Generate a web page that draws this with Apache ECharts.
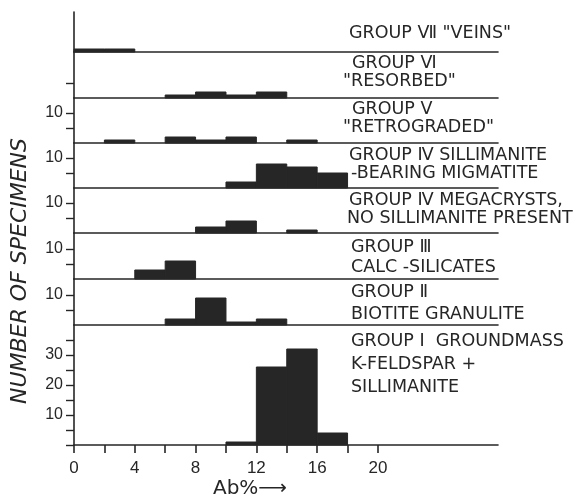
<!DOCTYPE html>
<html>
<head>
<meta charset="utf-8">
<script src="https://cdn.jsdelivr.net/npm/echarts@6/dist/echarts.min.js"></script>
<style>
html,body{margin:0;padding:0;background:#fff;}
#chart{width:587px;height:497px;}
</style>
</head>
<body>
<div id="chart"></div>
<script>
// Bin starts (Ab %), each bin is 2 % wide
const binStarts = [0, 2, 4, 6, 8, 10, 12, 14, 16];
const binWidth = 2;

// Number of specimens per bin, one array per group (top panel to bottom panel)
const groupVII_veins       = [1, 1, 0, 0, 0, 0, 0, 0, 0];
const groupVI_resorbed     = [0, 0, 0, 1, 2, 1, 2, 0, 0];
const groupV_retrograded   = [0, 1, 0, 2, 1, 2, 0, 1, 0];
const groupIV_sillimanite  = [0, 0, 0, 0, 0, 2, 8, 7, 5];
const groupIV_megacrysts   = [0, 0, 0, 0, 2, 4, 0, 1, 0];
const groupIII_calc        = [0, 0, 3, 6, 0, 0, 0, 0, 0];
const groupII_biotite      = [0, 0, 0, 2, 9, 1, 2, 0, 0];
const groupI_groundmass    = [0, 0, 0, 0, 0, 1, 26, 32, 4];

// Panel labels
const labelsVII = ['GROUP Ⅶ "VEINS"'];
const labelsVI  = ['GROUP Ⅵ', '"RESORBED"'];
const labelsV   = ['GROUP Ⅴ', '"RETROGRADED"'];
const labelsIVs = ['GROUP Ⅳ SILLIMANITE', '-BEARING MIGMATITE'];
const labelsIVm = ['GROUP Ⅳ MEGACRYSTS,', 'NO SILLIMANITE PRESENT'];
const labelsIII = ['GROUP Ⅲ', 'CALC -SILICATES'];
const labelsII  = ['GROUP Ⅱ', 'BIOTITE GRANULITE'];
const labelsI   = ['GROUP Ⅰ  GROUNDMASS', 'K-FELDSPAR +', 'SILLIMANITE'];

// Axis ticks
const xTickValues  = [0, 2, 4, 6, 8, 10, 12, 14, 16, 18, 20];
const xLabelValues = [0, 4, 8, 12, 16, 20];
const yTicksSmall  = [5, 10];
const yLabelsSmall = [10];
const yTicksVI     = [5];
const yTicksI      = [0, 5, 10, 15, 20, 25, 30, 35];
const yLabelsI     = [10, 20, 30];
const xAxisName = 'Ab%\u27F6';
const yAxisName = 'NUMBER OF SPECIMENS';

const ink = '#262626';
const textFont = '"DejaVu Sans", sans-serif';
const numFont = '"Liberation Sans", "DejaVu Sans", sans-serif';
const pxPerUnit = 3.0;
const xMax = 27.9;

const panels = [
  {data: groupVII_veins,      top: 12,  height: 40,  ticks: [],          labels: [],           text: labelsVII, textY: [33],           textX: [349]},
  {data: groupVI_resorbed,    top: 52,  height: 46,  ticks: yTicksVI,    labels: [],           text: labelsVI,  textY: [63, 81],       textX: [352, 343]},
  {data: groupV_retrograded,  top: 98,  height: 45,  ticks: yTicksSmall, labels: yLabelsSmall, text: labelsV,   textY: [109, 127],     textX: [352, 343]},
  {data: groupIV_sillimanite, top: 143, height: 45,  ticks: yTicksSmall, labels: yLabelsSmall, text: labelsIVs, textY: [155, 173],     textX: [349, 351]},
  {data: groupIV_megacrysts,  top: 188, height: 45,  ticks: yTicksSmall, labels: yLabelsSmall, text: labelsIVm, textY: [200, 218],     textX: [349, 347]},
  {data: groupIII_calc,       top: 233, height: 46,  ticks: yTicksSmall, labels: yLabelsSmall, text: labelsIII, textY: [247, 267],     textX: [351, 351]},
  {data: groupII_biotite,     top: 279, height: 46,  ticks: yTicksSmall, labels: yLabelsSmall, text: labelsII,  textY: [292, 314],     textX: [351, 351]},
  {data: groupI_groundmass,   top: 325, height: 120, ticks: yTicksI,     labels: yLabelsI,     text: labelsI,   textY: [341, 364, 387], textX: [351, 351, 351]}
];

const grid = [], xAxis = [], yAxis = [], series = [], graphic = [];
panels.forEach((p, i) => {
  const last = i === panels.length - 1;
  grid.push({left: 74, width: 424, top: p.top, height: p.height});
  xAxis.push({
    type: 'value', gridIndex: i, min: 0, max: xMax,
    splitLine: {show: false},
    axisLine: {show: true, onZero: false, lineStyle: {color: ink, width: 1.6}},
    axisTick: last ? {show: true, customValues: xTickValues, length: 8, lineStyle: {color: ink, width: 1.6}} : {show: false},
    axisLabel: last ? {show: true, customValues: xLabelValues, fontSize: 17, color: ink, margin: 15, fontFamily: numFont} : {show: false}
  });
  yAxis.push({
    type: 'value', gridIndex: i, min: 0, max: p.height / pxPerUnit,
    splitLine: {show: false},
    axisLine: {show: true, lineStyle: {color: ink, width: 1.6}},
    axisTick: {show: p.ticks.length > 0, customValues: p.ticks, length: 8, lineStyle: {color: ink, width: 1.4}},
    axisLabel: {show: p.labels.length > 0, customValues: p.labels, fontSize: 16, color: ink, margin: 11, fontFamily: numFont}
  });
  series.push({
    type: 'custom', xAxisIndex: i, yAxisIndex: i,
    data: binStarts.map((b, k) => [b, b + binWidth, p.data[k]]).filter(d => d[2] > 0),
    renderItem: function (params, api) {
      const p0 = api.coord([api.value(0), api.value(2)]);
      const p1 = api.coord([api.value(1), 0]);
      return {
        type: 'rect',
        shape: {x: p0[0], y: p0[1], width: p1[0] - p0[0], height: p1[1] - p0[1]},
        style: {fill: ink, stroke: ink, lineWidth: 1}
      };
    },
    silent: true,
    animation: false
  });
  p.text.forEach((t, k) => {
    graphic.push({
      type: 'text', x: p.textX[k], y: p.textY[k],
      style: {text: t, fontSize: 17.5, fill: ink, fontFamily: textFont, align: 'left', verticalAlign: 'middle'}
    });
  });
});

graphic.push({
  type: 'text', x: 20, y: 271, rotation: Math.PI / 2,
  style: {text: yAxisName, fontSize: 22, fontStyle: 'italic', fill: ink, fontFamily: textFont, align: 'center', verticalAlign: 'middle'}
});
graphic.push({
  type: 'text', x: 250, y: 489,
  style: {text: xAxisName, fontSize: 20, fill: ink, fontFamily: textFont, align: 'center', verticalAlign: 'middle'}
});

const chart = echarts.init(document.getElementById('chart'));
chart.setOption({
  backgroundColor: '#ffffff',
  animation: false,
  grid, xAxis, yAxis, series, graphic
});
</script>
</body>
</html>
